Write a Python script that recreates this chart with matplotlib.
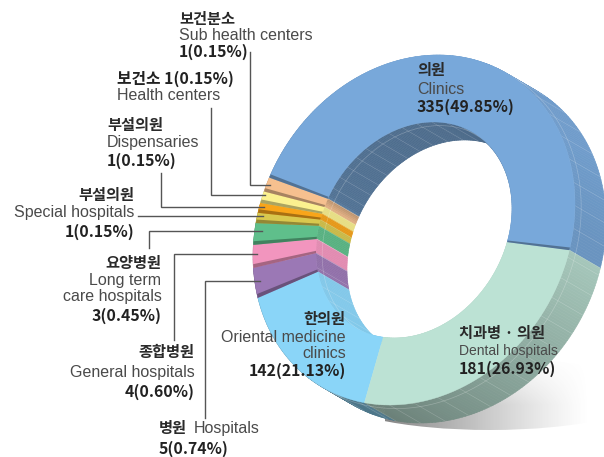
import numpy as np
import matplotlib
matplotlib.use('Agg')
import matplotlib.pyplot as plt
from matplotlib.colors import to_rgb
from matplotlib.patches import Ellipse

plt.rcParams['font.family'] = ['Noto Sans CJK KR', 'DejaVu Sans']

# slices, counterclockwise from the clinics / dental boundary
names_en = ['Clinics', 'Sub health centers', 'Health centers', 'Dispensaries', 'Special hospitals',
            'Long term care hospitals', 'General hospitals', 'Hospitals', 'Oriental medicine clinics',
            'Dental hospitals']
counts = [335, 1, 1, 1, 1, 3, 4, 5, 142, 181]
shares = [49.85, 0.15, 0.15, 0.15, 0.15, 0.45, 0.60, 0.74, 21.13, 26.93]
drawn_span_deg = [167.5, 5.5, 4.4, 3.7, 3.8, 7.8, 8.0, 10.2, 50.5, 98.6]
colors = ['#78A8DA', '#F6C08F', '#FBF18F', '#F9A51A', '#D9C84E',
          '#5FBF8B', '#F295BE', '#9B78B5', '#8AD5F8', '#BCE2D4']

START_DEG = -7.4
CX, CY = 414, 230
OUTER = (161, 175, -0.15)
INNER = (98, 108, -0.20)
DEPTH = (31, 18)


def ring_xy(theta, shape):
    sx, sy, rho = shape
    th = np.radians(theta)
    u, v = np.cos(th) / sx, -np.sin(th) / sy
    r = np.sqrt((1 - rho ** 2) / (u ** 2 - 2 * rho * u * v + v ** 2))
    return CX + r * np.cos(th), CY - r * np.sin(th)


def shade(color, k):
    return tuple(np.clip(np.array(to_rgb(color)) * k, 0, 1))


def outer_shade(theta):
    return np.interp(theta % 360, [0, 30, 90, 250, 270, 300, 353, 360],
                     [.88, .93, .93, .55, .62, .72, .88, .88])


def inner_shade(theta):
    return np.interp(theta % 360, [0, 50, 158, 165, 205, 260, 360],
                     [.95, .62, .68, .92, .94, .95, .95])


def ring_wedge(t0, t1):
    th = np.linspace(t0, t1, max(int(abs(t1 - t0) * 2), 2))
    xo, yo = ring_xy(th, OUTER)
    xi, yi = ring_xy(th[::-1], INNER)
    return np.r_[xo, xi], np.r_[yo, yi]


fig = plt.figure(figsize=(6.04, 4.57), dpi=100)
ax = fig.add_axes([0, 0, 1, 1])
ax.set_xlim(0, 604)
ax.set_ylim(457, 0)
ax.axis('off')

# soft shadow under the ring, fading to the right and upwards
fade_x = np.linspace(0.8, 0, 200) ** 1.2
fade_y = np.clip(np.linspace(0, 1.6, 80), 0, 1)
grad = np.zeros((80, 200, 4))
grad[..., :3] = 0.38
grad[..., 3] = np.outer(fade_y, fade_x)
im = ax.imshow(grad, extent=[385, 590, 435, 355], aspect='auto', zorder=1, interpolation='bilinear')
im.set_clip_path(Ellipse((490, 394), 320, 72, transform=ax.transData))
ax.set_xlim(0, 604)
ax.set_ylim(457, 0)

edges = START_DEG + np.r_[0, np.cumsum(drawn_span_deg)]

# side walls first, the front face then hides what is behind it
for i, col in enumerate(colors):
    th = np.arange(edges[i], edges[i + 1] + 1, 1.0)
    th[-1] = edges[i + 1]
    for shape, shade_fn in [(INNER, inner_shade), (OUTER, outer_shade)]:
        x, y = ring_xy(th, shape)
        for j in range(len(th) - 1):
            k = shade_fn((th[j] + th[j + 1]) / 2)
            qx = [x[j], x[j + 1], x[j + 1] + DEPTH[0], x[j] + DEPTH[0]]
            qy = [y[j], y[j + 1], y[j + 1] + DEPTH[1], y[j] + DEPTH[1]]
            ax.fill(qx, qy, color=shade(col, k), lw=0.4, zorder=2)
        # facet lines on the wall
        ax.plot(x + DEPTH[0] * 0.2, y + DEPTH[1] * 0.2, color='white', alpha=0.25, lw=0.5, zorder=3)
        for j in range(0, len(th), 8):
            ax.plot([x[j], x[j] + DEPTH[0]], [y[j], y[j] + DEPTH[1]], color='white',
                    alpha=0.18, lw=0.5, zorder=3)

# front faces
for i, col in enumerate(colors):
    x, y = ring_wedge(edges[i], edges[i + 1])
    ax.fill(x, y, color=col, lw=0.3, zorder=4)
    if i < 8:
        x, y = ring_wedge(edges[i + 1] - 1.3, edges[i + 1])
        ax.fill(x, y, color=shade(col, 0.68), lw=0, zorder=5)
x, y = ring_wedge(edges[0], edges[0] + 1.0)
ax.fill(x, y, color=shade(colors[0], 0.68), lw=0, zorder=5)

# leader lines
leader_x = [[250, 250, 270], [211, 211, 265], [161, 161, 264], [138, 263],
            [149, 149, 262], [174, 174, 257], [205, 205, 260]]
leader_y = [[52, 185, 185], [108, 195, 195], [173, 207, 207], [216, 216],
            [248, 231, 231], [340, 254, 254], [418, 281, 281]]
for lx, ly in zip(leader_x, leader_y):
    ax.plot(lx, ly, color='#555555', lw=1.0, zorder=6, solid_joinstyle='miter')

KO_SIZE, EN_SIZE, NUM_SIZE = 11.0, 11.5, 11.4
KO_COL, EN_COL, NUM_COL = '#2a2a2a', '#4a4a4a', '#222222'
EN_FONT = ['Liberation Sans', 'DejaVu Sans']


def label(x, y, s, kind, ha='left', size=None):
    fs = {'ko': KO_SIZE, 'en': EN_SIZE, 'num': NUM_SIZE}[kind] if size is None else size
    col = {'ko': KO_COL, 'en': EN_COL, 'num': NUM_COL}[kind]
    if kind == 'en':
        ax.text(x, y, s, fontsize=fs, color=col, ha=ha, va='center', family=EN_FONT, zorder=7)
    else:
        ax.text(x, y, s, fontsize=fs, color=col, ha=ha, va='center', fontweight='bold', zorder=7)


label(179, 19, '보건분소', 'ko')
label(179, 35, 'Sub health centers', 'en')
label(179, 52, '1(0.15%)', 'num')
label(117, 79, '보건소 1(0.15%)', 'num')
label(117, 96, 'Health centers', 'en')
label(107, 125, '부설의원', 'ko')
label(107, 143, 'Dispensaries', 'en')
label(107, 161, '1(0.15%)', 'num')
label(134, 195, '부설의원', 'ko', 'right')
label(134, 213, 'Special hospitals', 'en', 'right')
label(134, 232, '1(0.15%)', 'num', 'right')
label(161, 263, '요양병원', 'ko', 'right')
label(161, 281, 'Long term', 'en', 'right')
label(162, 296, 'care hospitals', 'en', 'right')
label(162, 316, '3(0.45%)', 'num', 'right')
label(194, 352, '종합병원', 'ko', 'right')
label(195, 372, 'General hospitals', 'en', 'right')
label(195, 392, '4(0.60%)', 'num', 'right')
label(159, 428, '병원', 'ko')
label(194, 428, 'Hospitals', 'en')
label(159, 449, '5(0.74%)', 'num')
label(417, 70, '의원', 'ko')
label(417, 89, 'Clinics', 'en')
label(417, 107, '335(49.85%)', 'num')
label(345, 319, '한의원', 'ko', 'right')
label(346, 337, 'Oriental medicine', 'en', 'right')
label(346, 353, 'clinics', 'en', 'right')
label(346, 371, '142(21.13%)', 'num', 'right')
label(459, 333, '치과병 · 의원', 'ko')
label(459, 351, 'Dental hospitals', 'en', size=10.0)
label(459, 369, '181(26.93%)', 'num')

fig.savefig('out.png', dpi=100)
